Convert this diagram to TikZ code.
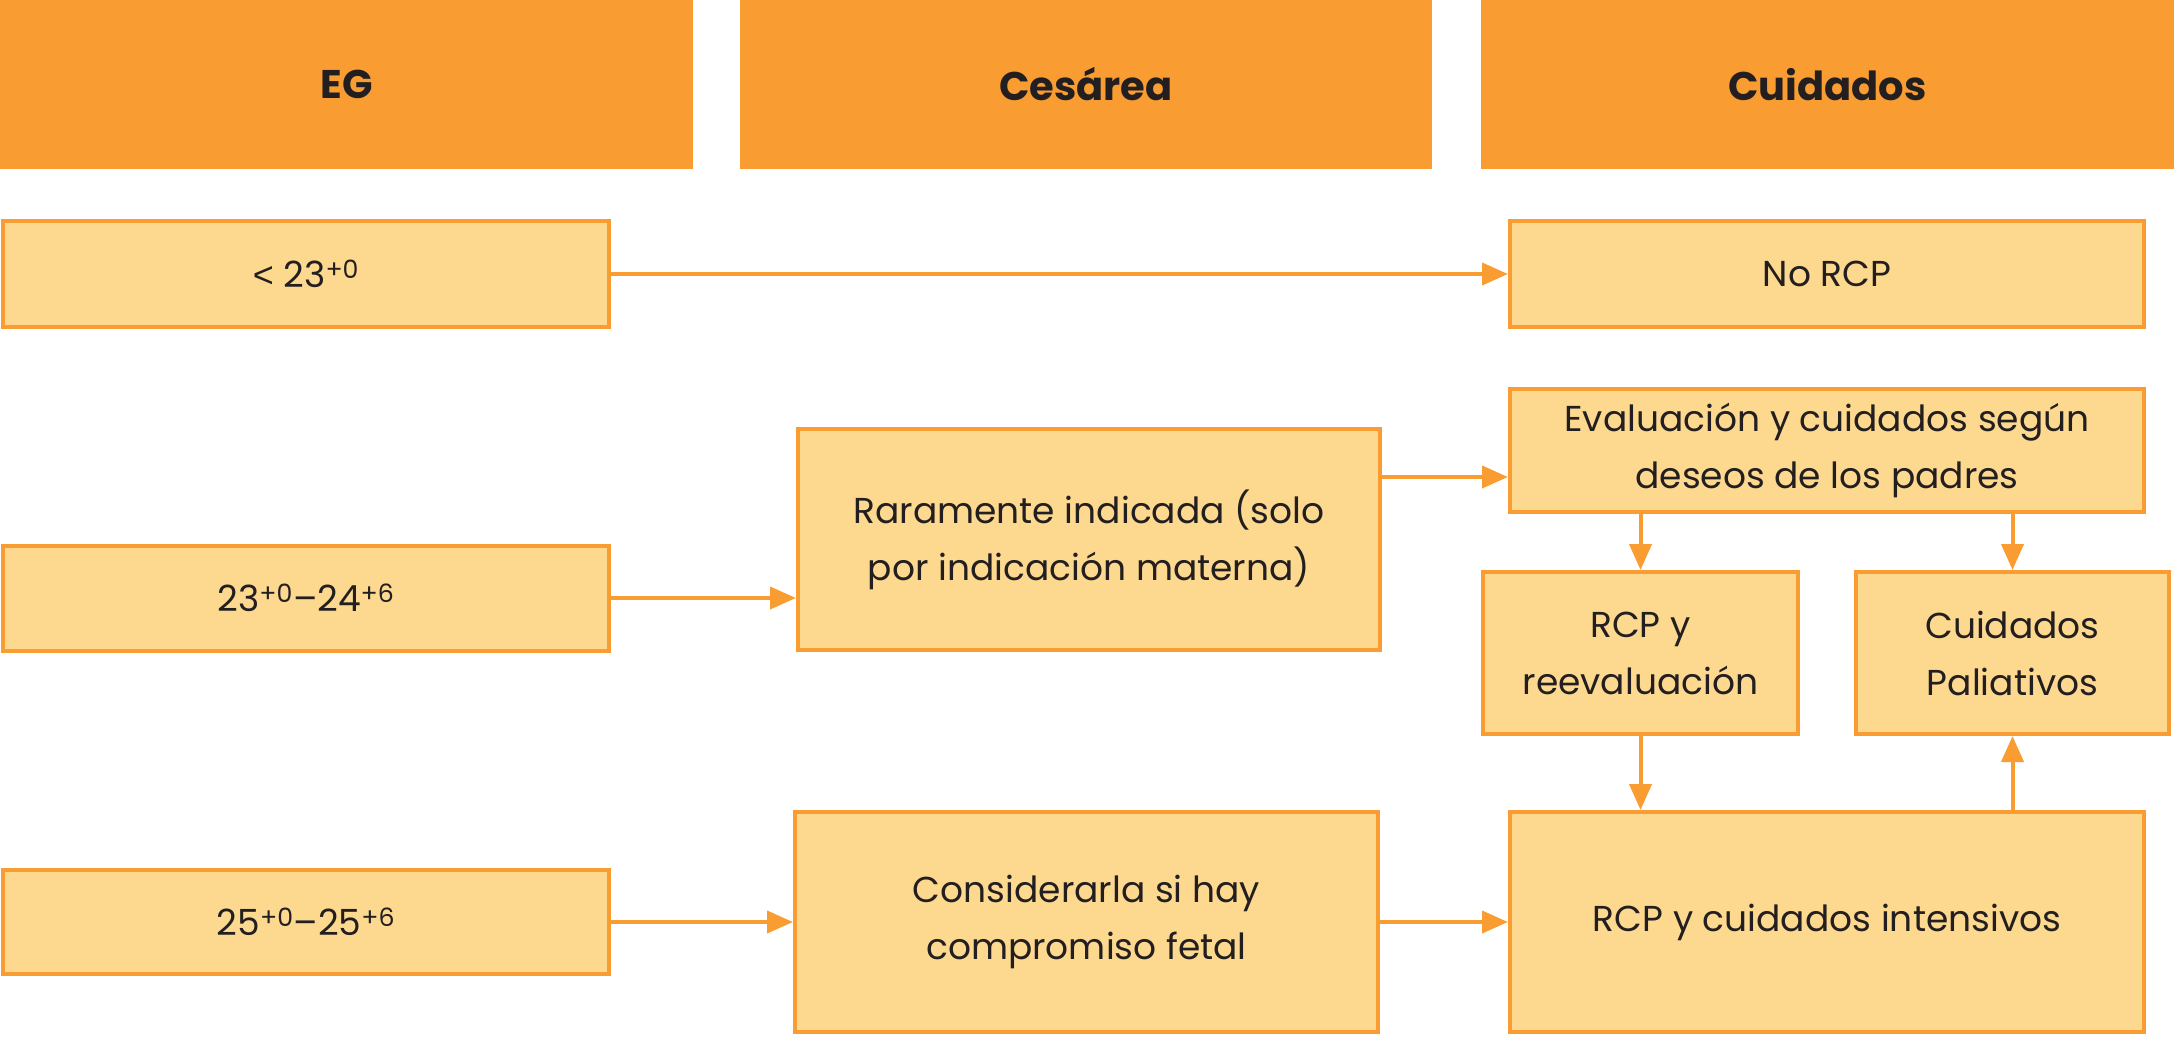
\documentclass[tikz,border=0pt]{standalone}
\usepackage{fontspec}
\setmainfont{Poppins}
\newfontfamily\ltfont{Liberation Sans}
\usetikzlibrary{arrows.meta}
\definecolor{headorange}{HTML}{F99D33}
\definecolor{boxfill}{HTML}{FDD88F}
\definecolor{textdark}{HTML}{231F20}
\begin{document}
\begin{tikzpicture}[x=1pt,y=-1pt]
        \tikzstyle{head_style} = [rectangle,fill=headorange,inner sep=0pt,minimum height=169pt,text=textdark,font=\fontsize{40}{48}\selectfont\bfseries]
        \tikzstyle{box_style} = [rectangle,draw=headorange,line width=4pt,fill=boxfill,inner sep=0pt,align=center,text=textdark,font=\fontsize{36}{57}\selectfont]
        \tikzstyle{edge_style} = [draw=headorange,line width=4pt,-{Triangle[length=26pt,width=22pt]}]
        \useasboundingbox (0,0) rectangle (2174,1037);
        \node[head_style,minimum width=693pt] (eg) at (346.5,84.5) {EG};
        \node[head_style,minimum width=692pt] (ces) at (1086,84.5) {Cesárea};
        \node[head_style,minimum width=693pt] (cui) at (1827.5,84.5) {Cuidados};
        \node[box_style,minimum width=606pt,minimum height=106pt] (g1) at (306,274) {{\ltfont <} 23\textsuperscript{+0}};
        \node[box_style,minimum width=606pt,minimum height=105pt] (g2) at (306,598) {23\textsuperscript{+0}–24\textsuperscript{+6}};
        \node[box_style,minimum width=606pt,minimum height=104pt] (g3) at (306,922) {25\textsuperscript{+0}–25\textsuperscript{+6}};
        \node[box_style,minimum width=582pt,minimum height=221pt] (rar) at (1089,539.5) {Raramente indicada (solo\\por indicación materna)};
        \node[box_style,minimum width=583pt,minimum height=220pt] (con) at (1086.5,922) {Considerarla si hay\\compromiso fetal};
        \node[box_style,minimum width=634pt,minimum height=106pt] (norcp) at (1827,274) {No RCP};
        \node[box_style,minimum width=634pt,minimum height=123pt] (eval) at (1827,450.5) {Evaluación y cuidados según\\deseos de los padres};
        \node[box_style,minimum width=315pt,minimum height=162pt] (reev) at (1640.5,653) {RCP y\\reevaluación};
        \node[box_style,minimum width=313pt,minimum height=162pt] (pal) at (2012.5,653) {Cuidados\\Paliativos};
        \node[box_style,minimum width=634pt,minimum height=220pt] (int) at (1827,922) {RCP y cuidados intensivos};
        \draw[edge_style] (g1) -- (norcp);
        \draw[edge_style] (g2) -- (g2 -| rar.west);
        \draw[edge_style] (g3) -- (con);
        \draw[edge_style] (con) -- (int);
        \draw[edge_style] (rar.east |- 0,477) -- (eval.west |- 0,477);
        \draw[edge_style] (eval.south -| reev) -- (reev.north);
        \draw[edge_style] (eval.south -| pal) -- (pal.north);
        \draw[edge_style] (reev.south) -- (reev.south |- int.north);
        \draw[edge_style] (int.north -| pal) -- (pal.south);
      \end{tikzpicture}
\end{document}
